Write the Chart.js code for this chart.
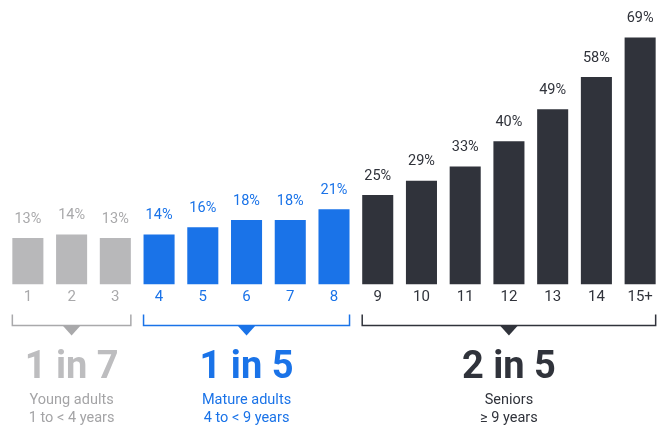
<!DOCTYPE html>
<html><head><meta charset="utf-8">
<script src="https://cdn.jsdelivr.net/npm/chart.js@4"></script>
<style>html,body{margin:0;padding:0;background:#fff}#wrap{width:667px;height:429px}</style>
</head><body><div id="wrap"><canvas id="c" width="667" height="429"></canvas></div>
<script>
const categories = ['1','2','3','4','5','6','7','8','9','10','11','12','13','14','15+'];
const values = [13,14,13,14,16,18,18,21,25,29,33,40,49,58,69];
const groupIndex = [0,0,0,1,1,1,1,1,2,2,2,2,2,2,2];
const groupRanges = [[0,2],[3,7],[8,14]];
const groupHeadlines = ['1 in 7','1 in 5','2 in 5'];
const groupNames = ['Young adults','Mature adults','Seniors'];
const groupSpans = ['1 to < 4 years','4 to < 9 years','\u2265 9 years'];

const barColors = ['#b8b8ba','#1a73e8','#30333b'];
const labelColors = ['#a9a9ab','#1a73e8','#30333b'];
const headColors = ['#bdbdbf','#1a73e8','#30333b'];
const subColors = ['#a4a4a6','#1a73e8','#30333b'];
const FONT = 'Roboto, "Noto Sans", sans-serif';

const annot = {
  id:'annot',
  afterDatasetsDraw(chart){
    const ctx = chart.ctx;
    const meta = chart.getDatasetMeta(0);
    ctx.save();
    ctx.textAlign='center'; ctx.textBaseline='middle';
    ctx.font = '14.5px ' + FONT;
    meta.data.forEach((bar,i)=>{
      ctx.fillStyle = labelColors[groupIndex[i]];
      ctx.fillText(values[i]+'%', bar.x, bar.y-19);
    });
    const lineY = chart.chartArea.bottom + 41;
    groupRanges.forEach((r,g)=>{
      const b0 = meta.data[r[0]], b1 = meta.data[r[1]];
      const x0 = b0.x - b0.width/2, x1 = b1.x + b1.width/2;
      const cx = (x0+x1)/2;
      ctx.strokeStyle = labelColors[g]; ctx.fillStyle = labelColors[g];
      ctx.lineWidth = 1.5;
      ctx.beginPath();
      ctx.moveTo(x0, lineY-11); ctx.lineTo(x0, lineY); ctx.lineTo(x1, lineY); ctx.lineTo(x1, lineY-11);
      ctx.stroke();
      ctx.beginPath();
      ctx.moveTo(cx-9, lineY); ctx.lineTo(cx+9, lineY); ctx.lineTo(cx, lineY+10); ctx.closePath();
      ctx.fill();
      ctx.fillStyle = headColors[g];
      ctx.font = 'bold 38px ' + FONT;
      ctx.fillText(groupHeadlines[g], cx, lineY+43);
      ctx.fillStyle = subColors[g];
      ctx.font = '14.5px ' + FONT;
      ctx.fillText(groupNames[g], cx, lineY+75);
      ctx.fillText(groupSpans[g], cx, lineY+93);
    });
    ctx.restore();
  }
};

new Chart(document.getElementById('c'), {
  type:'bar',
  data:{
    labels: categories,
    datasets:[{
      data: values,
      backgroundColor: values.map((v,i)=>barColors[groupIndex[i]]),
      barPercentage: 0.71,
      categoryPercentage: 1.0,
      borderWidth: 0
    }]
  },
  options:{
    responsive:false,
    animation:false,
    devicePixelRatio:1,
    layout:{padding:{left:6,right:5,top:0,bottom:118.5}},
    plugins:{legend:{display:false},tooltip:{enabled:false}},
    scales:{
      x:{
        grid:{display:false,drawTicks:false},
        border:{display:false},
        ticks:{
          padding:4,
          font:{family:FONT,size:15},
          color:(c)=>labelColors[groupIndex[c.index]],
          maxRotation:0,autoSkip:false
        }
      },
      y:{display:false,min:0,max:79.5}
    }
  },
  plugins:[annot]
});
</script>
</body></html>
